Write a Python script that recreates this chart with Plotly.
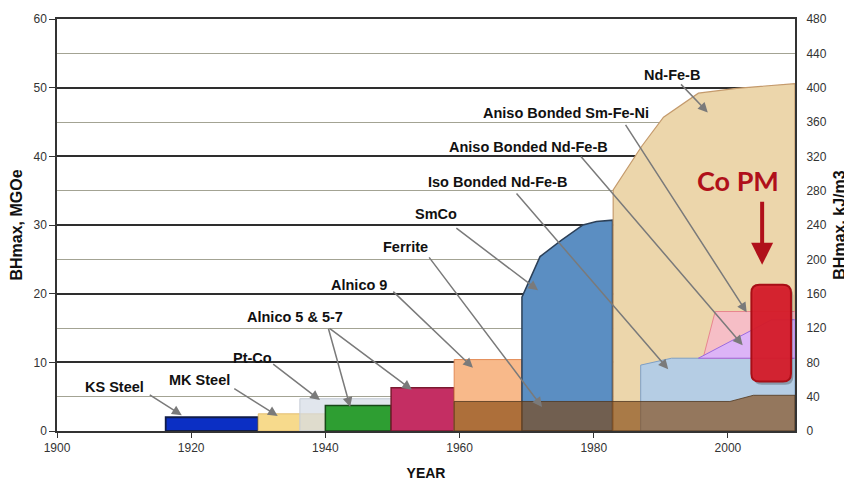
import plotly.graph_objects as go

# ---------------- data (years, BHmax in MGOe) ----------------
KS_STEEL_YEARS = [1916.2, 1930.0]
KS_STEEL_BH = 2.0
MK_STEEL_YEARS = [1930.0, 1940.0]
MK_STEEL_BH = 2.5
PTCO_YEARS = [1936.2, 1950.0]
PTCO_BH = 4.7
ALNICO5_YEARS = [1940.0, 1949.8]
ALNICO5_BH = 3.7
ALNICO57_YEARS = [1949.8, 1959.2]
ALNICO57_BH = 6.3
ALNICO9_YEARS = [1959.2, 1969.3]
ALNICO9_BH = 10.4
FERRITE_YEARS = [1959.2, 2000.3, 2003.8, 2010.0]
FERRITE_BH = [4.3, 4.3, 5.2, 5.2]
SMCO_YEARS = [1969.3, 1972.0, 1975.2, 1978.4, 1980.4, 1982.8]
SMCO_BH = [19.5, 25.4, 27.8, 30.0, 30.5, 30.7]
NDFEB_YEARS = [1982.9, 1987.1, 1990.4, 1995.6, 2001.3, 2010.0]
NDFEB_BH = [35.1, 41.4, 45.7, 49.2, 49.9, 50.6]
ISO_NDFEB_YEARS = [1987.0, 1991.6, 2010.0]
ISO_NDFEB_BH = [9.6, 10.6, 10.6]
ANISO_NDFEB_YEARS = [1995.6, 2006.5, 2010.0]
ANISO_NDFEB_BH = [10.6, 16.2, 16.2]
ANISO_SMFENI_YEARS = [1996.3, 1998.1, 2010.0]
ANISO_SMFENI_BH = [10.6, 17.4, 17.4]
CO_PM_YEARS = [2003.5, 2009.4]
CO_PM_BH = [7.2, 21.3]

X_TICKS = [1900, 1920, 1940, 1960, 1980, 2000]
Y_TICKS = [0, 10, 20, 30, 40, 50, 60]
Y2_TICKS = [0, 40, 80, 120, 160, 200, 240, 280, 320, 360, 400, 440, 480]

FONT = "Liberation Sans, Arial, sans-serif"

fig = go.Figure()


def add_poly(xs, ys, fill, line, lw=1.2):
    fig.add_trace(go.Scatter(x=xs, y=ys, fill="toself", fillcolor=fill, mode="lines",
                             line=dict(color=line, width=lw), hoverinfo="skip",
                             showlegend=False))


def rect(years, top, bottom=0.0):
    return ([years[0], years[0], years[1], years[1], years[0]],
            [bottom, top, top, bottom, bottom])


def area(years, tops, base=0.0):
    xs = [years[0]] + list(years) + [years[-1], years[0]]
    ys = [base] + list(tops) + [base, base]
    return xs, ys


add_poly(*rect(KS_STEEL_YEARS, KS_STEEL_BH), "#0B2FC4", "#101C4A", 1.8)
add_poly(*rect(MK_STEEL_YEARS, MK_STEEL_BH), "#F7DA8C", "#E3BE70", 1)
add_poly(*rect(PTCO_YEARS, PTCO_BH), "rgba(214,221,230,0.72)", "#C5CCD6", 1)
add_poly(*rect(ALNICO5_YEARS, ALNICO5_BH), "#2E9E32", "#184818", 1.5)
add_poly(*rect(ALNICO57_YEARS, ALNICO57_BH), "#C42E63", "#7A1A30", 1.5)
add_poly(*rect(ALNICO9_YEARS, ALNICO9_BH), "#F8B98A", "#E28A55", 1)
add_poly(*area(SMCO_YEARS, SMCO_BH), "#5B8EC2", "#2C4058", 1.5)
add_poly(*area(NDFEB_YEARS, NDFEB_BH), "#ECD6AB", "#C49A6C", 1.2)
add_poly(*area(ISO_NDFEB_YEARS, ISO_NDFEB_BH), "#B5CDE4", "#7F9FC4", 1)
add_poly(*area(ANISO_SMFENI_YEARS, ANISO_SMFENI_BH, base=ANISO_SMFENI_BH[0]),
         "#F6BEC6", "#E8868F", 1)
add_poly(*area(ANISO_NDFEB_YEARS, ANISO_NDFEB_BH, base=ANISO_NDFEB_BH[0]),
         "#DDB4F7", "#9B6BE0", 1)
add_poly(*area(FERRITE_YEARS, FERRITE_BH), "rgba(128,66,10,0.62)", "rgba(80,55,30,0.8)", 1)

# invisible trace for the right axis
fig.add_trace(go.Scatter(x=[1900, 2010], y=[0, 480], yaxis="y2", mode="markers",
                         marker=dict(opacity=0), hoverinfo="skip", showlegend=False))


# Co PM rounded box
def rounded(x0, x1, y0, y1, rx, ry):
    return (f"M {x0+rx},{y0} L {x1-rx},{y0} Q {x1},{y0} {x1},{y0+ry} "
            f"L {x1},{y1-ry} Q {x1},{y1} {x1-rx},{y1} L {x0+rx},{y1} "
            f"Q {x0},{y1} {x0},{y1-ry} L {x0},{y0+ry} Q {x0},{y0} {x0+rx},{y0} Z")


shapes = [
    dict(type="path", xref="x", yref="y",
         path=rounded(CO_PM_YEARS[0] + 0.35, CO_PM_YEARS[1] + 0.35, CO_PM_BH[0] - 0.45,
                      CO_PM_BH[1] - 0.45, 1.2, 1.15),
         fillcolor="rgba(0,0,0,0.25)", line=dict(width=0)),
    dict(type="path", xref="x", yref="y",
         path=rounded(CO_PM_YEARS[0], CO_PM_YEARS[1], CO_PM_BH[0], CO_PM_BH[1], 1.2, 1.15),
         fillcolor="rgba(214,28,42,0.95)", line=dict(color="#A80E16", width=2)),
]

# labels
labels = [
    ("KS Steel", 1908.5, 6.4),
    ("MK Steel", 1921.2, 7.5),
    ("Pt-Co", 1929.1, 10.7),
    ("Alnico 5 &amp; 5-7", 1935.5, 16.6),
    ("Alnico 9", 1945.0, 21.3),
    ("Ferrite", 1951.9, 26.8),
    ("SmCo", 1956.5, 31.6),
    ("Iso Bonded Nd-Fe-B", 1965.6, 36.2),
    ("Aniso Bonded Nd-Fe-B", 1970.3, 41.3),
    ("Aniso Bonded Sm-Fe-Ni", 1975.9, 46.3),
    ("Nd-Fe-B", 1991.7, 51.9),
]
ann = []
for t, x, y in labels:
    ann.append(dict(text=f"<b>{t}</b>", x=x, y=y, xref="x", yref="y", showarrow=False,
                    font=dict(family=FONT, size=14.5, color="#111"),
                    xanchor="center", yanchor="middle"))

arrows = [
    ((1913.6, 5.4), (1918.6, 2.3)),
    ((1926.2, 6.3), (1932.9, 2.2)),
    ((1932.0, 9.9), (1939.2, 4.5)),
    ((1940.4, 15.1), (1943.7, 3.5)),
    ((1940.4, 15.1), (1952.9, 6.0)),
    ((1949.9, 20.5), (1962.0, 9.2)),
    ((1955.3, 25.5), (1972.3, 3.5)),
    ((1959.3, 29.7), (1971.7, 20.5)),
    ((1968.3, 34.8), (1991.1, 9.0)),
    ((1977.9, 40.2), (2002.2, 12.5)),
    ((1984.6, 44.8), (2002.8, 17.3)),
    ((1992.8, 50.7), (1997.0, 46.4)),
]
for (tx, ty), (hx, hy) in arrows:
    ann.append(dict(text="", x=hx, y=hy, ax=tx, ay=ty, xref="x", yref="y",
                    axref="x", ayref="y", showarrow=True, arrowhead=2, arrowsize=1.3,
                    arrowwidth=1.5, arrowcolor="#7a7a7a", standoff=0, startstandoff=0))

ann.append(dict(text="<b>Co PM</b>", x=2001.5, y=36.5, xref="x", yref="y", showarrow=False,
                font=dict(family="Lato, Open Sans, sans-serif", size=27, color="#B0101A"),
                xanchor="center", yanchor="middle"))
ann.append(dict(text="", x=2005.1, y=24.2, ax=2005.1, ay=33.6, xref="x", yref="y",
                axref="x", ayref="y", showarrow=True, arrowhead=2, arrowsize=1.1,
                arrowwidth=4, arrowcolor="#B0101A", standoff=0))

# the page adds an 8px body margin, so the figure is sized/offset to compensate
fig.update_layout(
    width=844, height=476,
    margin=dict(l=49, r=57, t=11, b=53, autoexpand=False),
    paper_bgcolor="white", plot_bgcolor="white",
    shapes=shapes, annotations=ann,
    xaxis=dict(range=[1900, 2010], tickvals=X_TICKS, ticks="outside", ticklen=5,
               tickcolor="#333", showgrid=False, zeroline=False, showline=True,
               linecolor="#333", linewidth=1.5, mirror=True, automargin=False,
               tickfont=dict(family=FONT, size=12, color="#333"),
               title=dict(text="<b>YEAR</b>", font=dict(family=FONT, size=14, color="#111"),
                          standoff=14)),
    yaxis=dict(range=[0, 60], tickvals=Y_TICKS, ticks="outside", ticklen=6,
               tickcolor="#333", showgrid=True, gridcolor="#2e2e2e", gridwidth=1.5,
               minor=dict(dtick=5, showgrid=True, gridcolor="#a3a393", gridwidth=1),
               zeroline=False, showline=True, linecolor="#333", linewidth=1.5, mirror=True,
               automargin=False,
               tickfont=dict(family=FONT, size=12, color="#333"),
               title=dict(text="<b>BHmax, MGOe</b>", font=dict(family=FONT, size=16, color="#111"),
                          standoff=8)),
    yaxis2=dict(range=[0, 480], tickvals=Y2_TICKS, overlaying="y", side="right",
                showgrid=False, zeroline=False, showline=False, ticks="outside",
                ticklen=8, tickcolor="rgba(0,0,0,0)", automargin=False,
                tickfont=dict(family=FONT, size=12, color="#333"),
                title=dict(text="<b>BHmax, kJ/m3</b>", font=dict(family=FONT, size=16, color="#111"),
                           standoff=8)),
)

fig.write_html("out.html")
